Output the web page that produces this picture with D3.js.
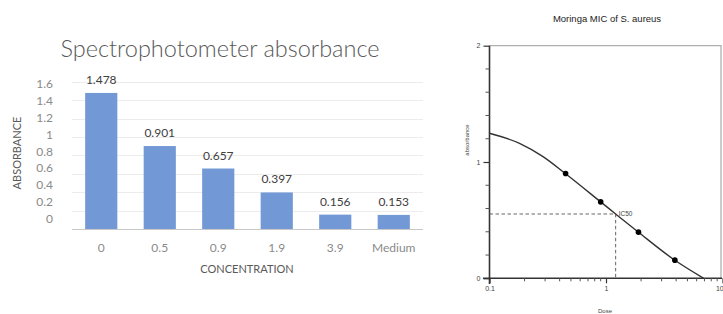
<!DOCTYPE html>
<html>
<head>
<meta charset="utf-8">
<script src="https://cdn.jsdelivr.net/npm/d3@7"></script>
<style>
  body { margin: 0; background: #fff; }
  svg { display: block; }
</style>
</head>
<body>
<script>
// bar chart data
var categories = ['0', '0.5', '0.9', '1.9', '3.9', 'Medium'];
var absorbance = [1.478, 0.901, 0.657, 0.397, 0.156, 0.153];
var yTicks = [0, 0.2, 0.4, 0.6, 0.8, 1, 1.2, 1.4, 1.6];

// dose-response data
var doses = [0.45, 0.9, 1.9, 3.9];
var doseAbs = [0.901, 0.657, 0.397, 0.156];
var fitDose = [0.1, 0.181, 0.288, 0.45, 0.9, 1.21, 1.9, 3.9, 6.9];
var fitAbs = [1.247, 1.16, 1.046, 0.899, 0.657, 0.553, 0.396, 0.155, 0];
var ic50 = { dose: 1.21, abs: 0.553 };
var doseTicks = [0.1, 1, 10];
var minorDose = [0.2, 0.3, 0.4, 0.5, 0.6, 0.7, 0.8, 0.9, 2, 3, 4, 5, 6, 7, 8, 9];
var absTicks = [0, 1, 2];
var minorAbs = [0.2, 0.4, 0.6, 0.8, 1.2, 1.4, 1.6, 1.8];

var w = 723, h = 314;

var svg = d3.select('body')
  .append('svg')
  .attr('width', w)
  .attr('height', h);

// ---------- left: bar chart ----------
var left = svg.append('g');

var x = d3.scaleBand()
  .domain(categories)
  .range([72, 423])
  .paddingInner(0.45)
  .paddingOuter(0.225);

var y = d3.scaleLinear()
  .domain([0, 1.6])
  .range([229, 81.7]);

// tick labels in the source sit on a slightly squeezed scale
var yLab = d3.scaleLinear()
  .domain([0, 1.6])
  .range([218.7, 84]);

left.selectAll('line.grid').data(yTicks)
  .enter()
  .append('line')
  .attr('class', 'grid')
  .attr('x1', 72)
  .attr('x2', 423)
  .attr('y1', function (d) { return Math.round(y(d)) + 0.5; })
  .attr('y2', function (d) { return Math.round(y(d)) + 0.5; })
  .attr('stroke', function (d) { return d === 0 ? '#c8c8c8' : '#ececec'; })
  .attr('stroke-width', 1);

left.selectAll('text.ylab').data(yTicks)
  .enter()
  .append('text')
  .attr('class', 'ylab')
  .text(function (d) { return d; })
  .attr('x', 53)
  .attr('y', function (d) { return yLab(d); })
  .attr('dy', '0.35em')
  .attr('text-anchor', 'end')
  .attr('font-family', 'Lato, sans-serif')
  .attr('font-size', '12px')
  .attr('fill', '#8a8a8a');

left.selectAll('rect').data(absorbance)
  .enter()
  .append('rect')
  .attr('x', function (d, i) { return x(categories[i]); })
  .attr('y', function (d) { return y(d); })
  .attr('width', x.bandwidth())
  .attr('height', function (d) { return y(0) - y(d); })
  .attr('fill', '#7298d6');

left.selectAll('text.val').data(absorbance)
  .enter()
  .append('text')
  .attr('class', 'val')
  .text(function (d) { return d3.format('.3f')(d); })
  .attr('x', function (d, i) { return x(categories[i]) + x.bandwidth() / 2; })
  .attr('y', function (d) { return y(d) - 9; })
  .attr('text-anchor', 'middle')
  .attr('font-family', 'Lato, sans-serif')
  .attr('font-size', '12px')
  .attr('fill', '#404040');

left.selectAll('text.xlab').data(categories)
  .enter()
  .append('text')
  .attr('class', 'xlab')
  .text(function (d) { return d; })
  .attr('x', function (d) { return x(d) + x.bandwidth() / 2; })
  .attr('y', 252)
  .attr('text-anchor', 'middle')
  .attr('font-family', 'Lato, sans-serif')
  .attr('font-size', '12px')
  .attr('fill', '#8a8a8a');

left.append('text')
  .text('Spectrophotometer absorbance')
  .attr('x', 220)
  .attr('y', 57)
  .attr('text-anchor', 'middle')
  .attr('font-family', 'Lato, sans-serif')
  .attr('font-weight', 300)
  .attr('font-size', '23.5px')
  .attr('fill', '#595959');

left.append('text')
  .text('CONCENTRATION')
  .attr('x', 247)
  .attr('y', 273)
  .attr('text-anchor', 'middle')
  .attr('font-family', 'Lato, sans-serif')
  .attr('font-size', '11px')
  .attr('fill', '#595959');

left.append('text')
  .text('ABSORBANCE')
  .attr('transform', 'translate(21,153) rotate(-90)')
  .attr('text-anchor', 'middle')
  .attr('font-family', 'Lato, sans-serif')
  .attr('font-size', '11px')
  .attr('fill', '#595959');

// ---------- right: dose-response ----------
var right = svg.append('g');

var xd = d3.scaleLog()
  .domain([0.1, 10])
  .range([489.5, 722.5]);

var yd = d3.scaleLinear()
  .domain([0, 2])
  .range([278.3, 45.7]);

// light frame (top, right)
right.append('path')
  .attr('d', 'M' + xd(0.1) + ',' + yd(2) + 'H721V' + yd(0))
  .attr('fill', 'none')
  .attr('stroke', '#b0b0b0')
  .attr('stroke-width', 1.3);

var xAxis = right.append('g')
  .attr('transform', 'translate(0,' + yd(0) + ')')
  .call(d3.axisBottom(xd).tickValues(doseTicks).tickSize(5).tickSizeOuter(0)
    .tickFormat(function (d) { return String(d); }));
xAxis.select('.domain').remove();
xAxis.append('line')
  .attr('x1', 483).attr('x2', 722)
  .attr('stroke', '#333').attr('stroke-width', 1.6);
xAxis.selectAll('.tick line').attr('stroke', '#333').attr('stroke-width', 1.2);
xAxis.selectAll('.tick text')
  .attr('font-family', 'Liberation Sans, Arial, sans-serif')
  .attr('font-size', '7px')
  .attr('fill', '#444')
  .attr('y', 8);
// last label would run off the page edge: pull it inside
xAxis.selectAll('.tick text')
  .filter(function (d) { return d === 10; })
  .attr('text-anchor', 'end')
  .attr('dx', '0.1em');
xAxis.selectAll('line.minor').data(minorDose)
  .enter()
  .append('line')
  .attr('class', 'minor')
  .attr('x1', function (d) { return xd(d); })
  .attr('x2', function (d) { return xd(d); })
  .attr('y1', 0).attr('y2', 3)
  .attr('stroke', '#555');

var yAxis = right.append('g')
  .attr('transform', 'translate(' + xd(0.1) + ',0)')
  .call(d3.axisLeft(yd).tickValues(absTicks).tickSize(6).tickSizeOuter(0)
    .tickFormat(d3.format('d')));
yAxis.select('.domain').remove();
yAxis.append('line')
  .attr('y1', yd(2)).attr('y2', 284)
  .attr('stroke', '#333').attr('stroke-width', 1.6);
yAxis.selectAll('.tick line').attr('stroke', '#333').attr('stroke-width', 1.2);
yAxis.selectAll('.tick text')
  .attr('font-family', 'Liberation Sans, Arial, sans-serif')
  .attr('font-size', '7px')
  .attr('fill', '#444')
  .attr('x', -9);
yAxis.selectAll('line.minor').data(minorAbs)
  .enter()
  .append('line')
  .attr('class', 'minor')
  .attr('y1', function (d) { return yd(d); })
  .attr('y2', function (d) { return yd(d); })
  .attr('x1', 0).attr('x2', -4)
  .attr('stroke', '#555');

// IC50 guide lines
right.append('path')
  .attr('d', 'M' + xd(0.1) + ',' + yd(ic50.abs) + 'H' + xd(ic50.dose) + 'V' + yd(0))
  .attr('fill', 'none')
  .attr('stroke', '#555')
  .attr('stroke-width', 0.9)
  .attr('stroke-dasharray', '3.5,2.5');

right.append('text')
  .text('IC50')
  .attr('x', xd(ic50.dose) + 3)
  .attr('y', yd(ic50.abs))
  .attr('dy', '0.35em')
  .attr('font-family', 'Liberation Sans, Arial, sans-serif')
  .attr('font-size', '6.5px')
  .attr('fill', '#444');

// fitted curve
var line = d3.line()
  .x(function (d, i) { return xd(fitDose[i]); })
  .y(function (d) { return yd(d); })
  .curve(d3.curveMonotoneX);

right.append('path')
  .datum(fitAbs)
  .attr('d', line)
  .attr('fill', 'none')
  .attr('stroke', '#333')
  .attr('stroke-width', 1.4);

right.selectAll('circle').data(doseAbs)
  .enter()
  .append('circle')
  .attr('cx', function (d, i) { return xd(doses[i]); })
  .attr('cy', function (d) { return yd(d); })
  .attr('r', 2.8)
  .attr('fill', '#000');

right.append('text')
  .text('Moringa MIC of S. aureus')
  .attr('x', 607)
  .attr('y', 22)
  .attr('text-anchor', 'middle')
  .attr('font-family', 'Liberation Sans, Arial, sans-serif')
  .attr('font-size', '9.5px')
  .attr('fill', '#222');

right.append('text')
  .text('Dose')
  .attr('x', 605)
  .attr('y', 313)
  .attr('text-anchor', 'middle')
  .attr('font-family', 'Liberation Sans, Arial, sans-serif')
  .attr('font-size', '6px')
  .attr('fill', '#444');

right.append('text')
  .text('absorbance')
  .attr('transform', 'translate(469,140) rotate(-90)')
  .attr('text-anchor', 'middle')
  .attr('font-family', 'Liberation Sans, Arial, sans-serif')
  .attr('font-size', '6px')
  .attr('fill', '#444');
</script>
</body>
</html>
